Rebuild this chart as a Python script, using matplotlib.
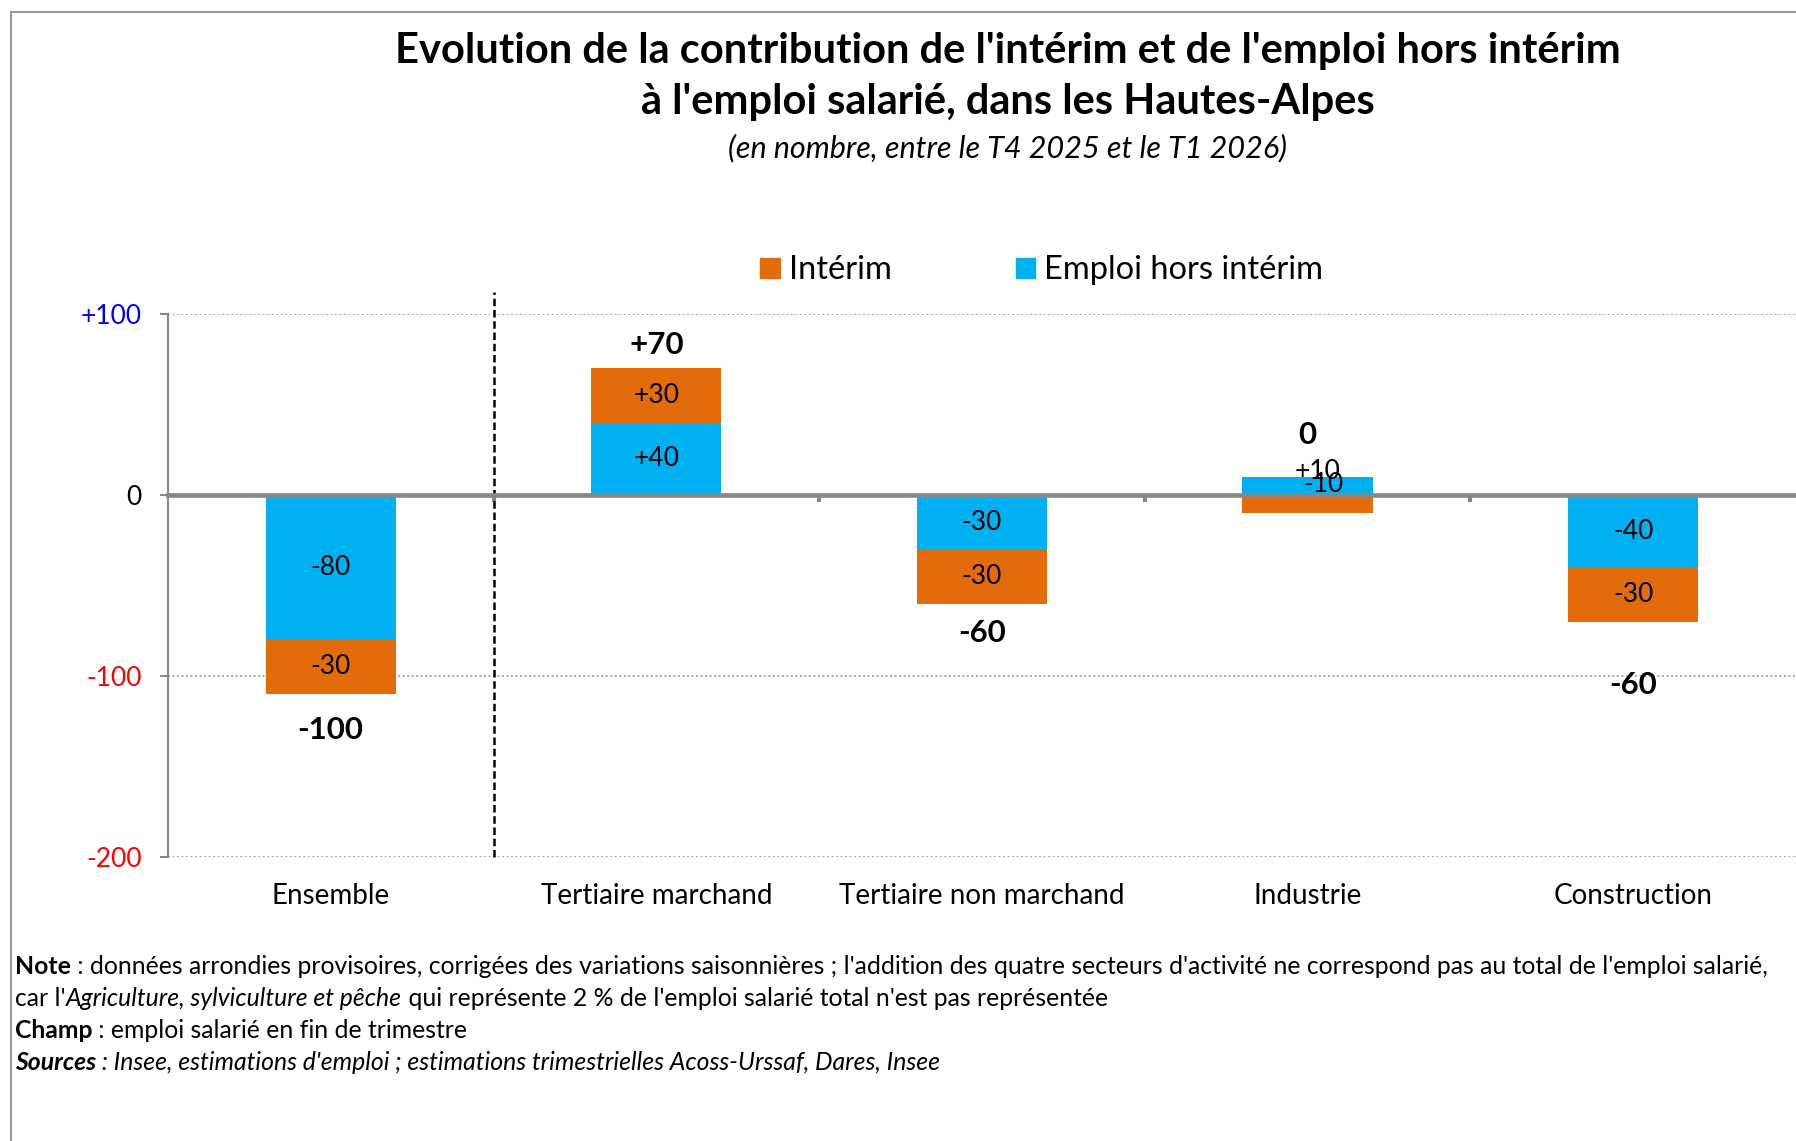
import matplotlib
matplotlib.use("Agg")
import matplotlib.pyplot as plt
from matplotlib.patches import Patch
from matplotlib.lines import Line2D

categories = ["Ensemble", "Tertiaire marchand", "Tertiaire non marchand", "Industrie", "Construction"]
emploi_hors_interim = [-80, 40, -30, 10, -40]
interim = [-30, 30, -30, -10, -30]
totaux = [-100, 70, -60, 0, -60]
y_ticks = [100, 0, -100, -200]
y_tick_labels = ["+100", "0", "-100", "-200"]
y_tick_colors = ["#0000FF", "black", "#FF0000", "#FF0000"]

# where Excel put the total labels (data units)
total_label_y = [-130, 83, -76, 33, -105]

ORANGE = "#E36C0A"
BLEU = "#00B0F0"
GRIS = "#878787"

plt.rcParams["font.family"] = ["Lato", "DejaVu Sans"]


def signe(v):
    return f"+{v}" if v > 0 else f"{v}"


fig = plt.figure(figsize=(17.96, 11.41), dpi=100)
ax = fig.add_axes([0.0935, 0.2489, 0.9065, 0.4759])

x = list(range(len(categories)))
bottom_int = [e if (e < 0) == (i < 0) else 0 for e, i in zip(emploi_hors_interim, interim)]
ax.bar(x, emploi_hors_interim, width=0.4, color=BLEU, zorder=2)
ax.bar(x, interim, bottom=bottom_int, width=0.4, color=ORANGE, zorder=2)

# segment labels
for i in x:
    e, it, b = emploi_hors_interim[i], interim[i], bottom_int[i]
    pos_e = (i, e / 2)
    pos_i = (i, b + it / 2)
    if categories[i] == "Industrie":
        pos_e = (i + 0.03, 13)
        pos_i = (i + 0.05, 6)
    ax.text(*pos_e, signe(e), ha="center", va="center", fontsize=19, zorder=4)
    ax.text(*pos_i, signe(it), ha="center", va="center", fontsize=19, zorder=4)
    ax.text(i, total_label_y[i], signe(totaux[i]), ha="center", va="center",
            fontsize=22.5, fontweight="bold", zorder=4, clip_on=False)
    ax.text(i, -221.5, categories[i], ha="center", va="center", fontsize=20, clip_on=False)

ax.set_xlim(-0.5, 4.5)
ax.set_ylim(-200, 100)

ax.spines["top"].set_visible(False)
ax.spines["right"].set_visible(False)
ax.spines["left"].set_color(GRIS)
ax.spines["left"].set_linewidth(1.5)
ax.spines["bottom"].set_position(("data", 0))
ax.spines["bottom"].set_color(GRIS)
ax.spines["bottom"].set_linewidth(3.3)
ax.spines["bottom"].set_zorder(3)

ax.set_xticks([0.5, 1.5, 2.5, 3.5])
ax.tick_params(axis="x", direction="out", length=5, width=3, color=GRIS, labelbottom=False)

ax.set_yticks(y_ticks)
ax.set_yticklabels(y_tick_labels, fontsize=19)
ax.tick_params(axis="y", direction="out", length=6, width=1.5, color=GRIS, pad=13)
for lab, c in zip(ax.get_yticklabels(), y_tick_colors):
    lab.set_color(c)
ax.yaxis.grid(True, linestyle=(0, (1, 1.5)), color="#9a9a9a", linewidth=1.3)
ax.set_axisbelow(True)

# separator between Ensemble and the sectors
ax.plot([0.5, 0.5], [-200, 112], color="black", linestyle=(0, (3, 1.5)), linewidth=1.8,
        clip_on=False, zorder=3)

fig.text(0.561, 0.955, "Evolution de la contribution de l'intérim et de l'emploi hors intérim",
         ha="center", va="center", fontsize=30, fontweight="bold")
fig.text(0.561, 0.9106, "à l'emploi salarié, dans les Hautes-Alpes",
         ha="center", va="center", fontsize=30, fontweight="bold")
fig.text(0.561, 0.870, "(en nombre, entre le T4 2025 et le T1 2026)",
         ha="center", va="center", fontsize=22, fontstyle="italic")

handles = [Patch(color=ORANGE, label="Intérim"), Patch(color=BLEU, label="Emploi hors intérim")]
fig.legend(handles=handles, loc="center", bbox_to_anchor=(0.58, 0.763), ncol=2, frameon=False,
           fontsize=23.5, handlelength=0.6, handleheight=0.6, handletextpad=0.27,
           columnspacing=3.8)

# notes with mixed styles
renderer = fig.canvas.get_renderer()


def ligne(y, segments, size=17.8):
    xpos = 15 / 1796
    for texte, weight, style in segments:
        t = fig.text(xpos, y, texte, fontsize=size, fontweight=weight, fontstyle=style,
                     ha="left", va="center")
        xpos += t.get_window_extent(renderer).width / fig.bbox.width


ligne(1 - 967 / 1141, [("Note", "bold", "normal"),
                       (" : données arrondies provisoires, corrigées des variations saisonnières ; "
                        "l'addition des quatre secteurs d'activité ne correspond pas au total de l'emploi salarié,",
                        "normal", "normal")])
ligne(1 - 999 / 1141, [("car l'", "normal", "normal"),
                       ("Agriculture, sylviculture et pêche", "normal", "italic"),
                       (" qui représente 2 % de l'emploi salarié total n'est pas représentée",
                        "normal", "normal")])
ligne(1 - 1031 / 1141, [("Champ", "bold", "normal"),
                        (" : emploi salarié en fin de trimestre", "normal", "normal")])
ligne(1 - 1062 / 1141, [("Sources", "bold", "italic"),
                        (" : Insee, estimations d'emploi ; estimations trimestrielles Acoss-Urssaf, Dares, Insee",
                         "normal", "italic")])

# outer frame (left and top edges visible)
fig.add_artist(Line2D([11 / 1796, 11 / 1796], [0, 1 - 11.5 / 1141], transform=fig.transFigure,
                      color="#9a9a9a", linewidth=1.5))
fig.add_artist(Line2D([11 / 1796, 1], [1 - 11.5 / 1141, 1 - 11.5 / 1141], transform=fig.transFigure,
                      color="#9a9a9a", linewidth=1.5))

fig.savefig("out.png", dpi=100)
